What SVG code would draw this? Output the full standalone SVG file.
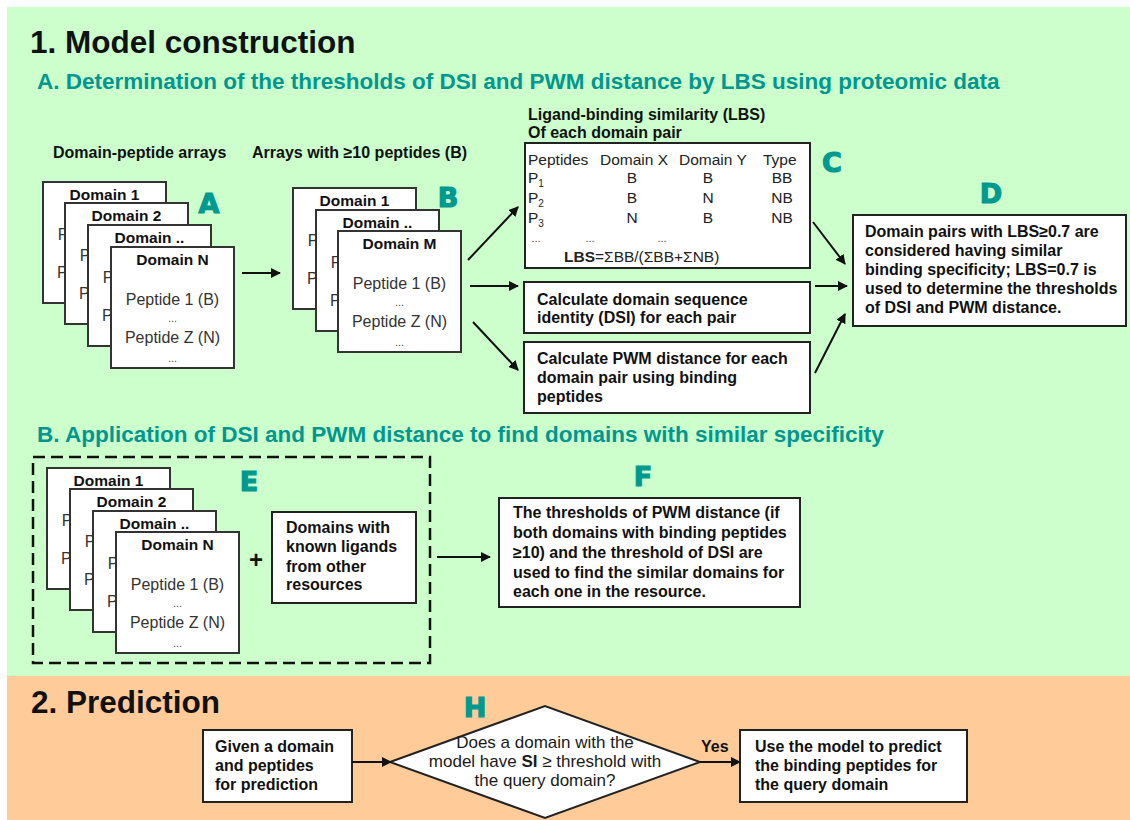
<svg xmlns="http://www.w3.org/2000/svg" width="1130" height="820" viewBox="0 0 1130 820">
<style>
  text { font-family: "Liberation Sans", Arial, sans-serif; fill: #111; }
  .h1 { font-size: 31.5px; font-weight: bold; }
  .h2 { font-size: 22.5px; font-weight: bold; fill: #00978f; }
  .lbl { font-size: 16px; font-weight: bold; }
  .bx { font-size: 16px; font-weight: bold; }
  .ct { font-size: 15.5px; font-weight: bold; text-anchor: middle; }
  .cp { font-size: 16px; fill: #333; text-anchor: middle; }
  .dots { font-size: 11px; fill: #444; text-anchor: middle; }
  .tb { font-size: 15.5px; fill: #222; }
  .tc { font-size: 15.5px; fill: #222; text-anchor: middle; }
  .tag { font-family: "DejaVu Sans", sans-serif; font-size: 27px; font-weight: bold; fill: #00998f; text-anchor: middle; stroke: #00998f; stroke-width: 1.2; }
  .box { fill: #fff; stroke: #222; stroke-width: 2; }
  .card { fill: #fff; stroke: #333; stroke-width: 2; }
  .con { stroke: #111; stroke-width: 2; fill: none; marker-end: url(#ah); }
  .dq { font-size: 17px; fill: #1a1a1a; text-anchor: middle; }
</style>
<defs>
  <marker id="ah" viewBox="0 0 10 10" refX="9" refY="5" markerWidth="5" markerHeight="5" orient="auto" markerUnits="strokeWidth">
    <path d="M0,0 L10,5 L0,10 z" fill="#111"/>
  </marker>
  <g id="cardBody">
    <rect class="card" x="0" y="0" width="123" height="121"/>
    <text class="cp" x="61.5" y="58">Peptide 1 (B)</text>
    <text class="dots" x="61.5" y="75">...</text>
    <text class="cp" x="61.5" y="96">Peptide Z (N)</text>
    <text class="dots" x="61.5" y="115">...</text>
  </g>
</defs>

<rect x="7" y="7" width="1123" height="669" fill="#ccffcc"/>
<rect x="7" y="676" width="1123" height="144" fill="#ffcc99"/>

<text class="h1" x="30" y="53">1. Model construction</text>
<text class="h2" x="37" y="89">A. Determination of the thresholds of DSI and PWM distance by LBS using proteomic data</text>
<text class="h2" x="37" y="442">B. Application of DSI and PWM distance to find domains with similar specificity</text>
<text class="h1" x="31" y="713">2. Prediction</text>

<text class="lbl" x="53" y="158">Domain-peptide arrays</text>
<text class="lbl" x="252" y="158">Arrays with ≥10 peptides (B)</text>

<g id="stackA">
  <g transform="translate(43,182)"><use href="#cardBody"/><text class="ct" x="61.5" y="18">Domain 1</text></g>
  <g transform="translate(65,203)"><use href="#cardBody"/><text class="ct" x="61.5" y="18">Domain 2</text></g>
  <g transform="translate(88,225)"><use href="#cardBody"/><text class="ct" x="61.5" y="18">Domain ..</text></g>
  <g transform="translate(111,247)"><use href="#cardBody"/><text class="ct" x="61.5" y="18">Domain N</text></g>
  <text class="tag" x="209" y="213">A</text>
</g>

<g id="stackB">
  <g transform="translate(293,188)"><use href="#cardBody"/><text class="ct" x="61.5" y="18">Domain 1</text></g>
  <g transform="translate(316,210)"><use href="#cardBody"/><text class="ct" x="61.5" y="18">Domain ..</text></g>
  <g transform="translate(338,231)"><use href="#cardBody"/><text class="ct" x="61.5" y="18">Domain M</text></g>
  <text class="tag" x="448" y="207">B</text>
</g>

<g id="nodeC">
  <text class="lbl" x="528" y="120">Ligand-binding similarity (LBS)</text>
  <text class="lbl" x="528" y="138">Of each domain pair</text>
  <rect class="box" x="525" y="143" width="285" height="125"/>
  <text class="tb" x="528" y="165">Peptides</text>
  <text class="tb" x="600" y="165">Domain X</text>
  <text class="tb" x="679" y="165">Domain Y</text>
  <text class="tb" x="763" y="165">Type</text>
  <text class="tb" x="528" y="183">P<tspan font-size="10" dy="4">1</tspan></text>
  <text class="tb" x="528" y="203">P<tspan font-size="10" dy="4">2</tspan></text>
  <text class="tb" x="528" y="223">P<tspan font-size="10" dy="4">3</tspan></text>
  <text class="tc" x="632" y="183">B</text><text class="tc" x="708" y="183">B</text><text class="tc" x="782" y="183">BB</text>
  <text class="tc" x="632" y="203">B</text><text class="tc" x="708" y="203">N</text><text class="tc" x="782" y="203">NB</text>
  <text class="tc" x="632" y="223">N</text><text class="tc" x="708" y="223">B</text><text class="tc" x="782" y="223">NB</text>
  <text class="dots" x="536" y="242">...</text>
  <text class="dots" x="590" y="242">...</text>
  <text class="dots" x="662" y="242">...</text>
  <text class="tb" x="564" y="262" font-size="16"><tspan font-weight="bold">LBS</tspan>=ΣBB/(ΣBB+ΣNB)</text>
  <text class="tag" x="832" y="172">C</text>
</g>

<g id="nodeDSI">
  <rect class="box" x="524" y="282" width="286" height="51"/>
  <text class="bx" x="537" y="305">Calculate domain sequence</text>
  <text class="bx" x="537" y="323">identity (DSI) for each pair</text>
</g>

<g id="nodePWM">
  <rect class="box" x="524" y="342" width="286" height="71"/>
  <text class="bx" x="537" y="364">Calculate PWM distance for each</text>
  <text class="bx" x="537" y="383">domain pair using binding</text>
  <text class="bx" x="537" y="402">peptides</text>
</g>

<g id="nodeD">
  <text class="tag" x="991" y="203">D</text>
  <rect class="box" x="853" y="215" width="273" height="111"/>
  <text class="bx" x="865" y="237">Domain pairs with LBS≥0.7 are</text>
  <text class="bx" x="865" y="256">considered having similar</text>
  <text class="bx" x="865" y="275">binding specificity; LBS=0.7 is</text>
  <text class="bx" x="865" y="294">used to determine the thresholds</text>
  <text class="bx" x="865" y="313">of DSI and PWM distance.</text>
</g>

<g id="groupE">
  <rect x="33" y="457" width="397" height="206" fill="none" stroke="#111" stroke-width="2.5" stroke-dasharray="12,6"/>
  <g transform="translate(47,468)"><use href="#cardBody"/><text class="ct" x="61.5" y="18">Domain 1</text></g>
  <g transform="translate(70,489)"><use href="#cardBody"/><text class="ct" x="61.5" y="18">Domain 2</text></g>
  <g transform="translate(93,511)"><use href="#cardBody"/><text class="ct" x="61.5" y="18">Domain ..</text></g>
  <g transform="translate(116,532)"><use href="#cardBody"/><text class="ct" x="61.5" y="18">Domain N</text></g>
  <text class="tag" x="249" y="491">E</text>
  <text x="256" y="568" font-size="24" font-weight="bold" text-anchor="middle">+</text>
  <rect class="box" x="272" y="512" width="144" height="91"/>
  <text class="bx" x="286" y="533">Domains with</text>
  <text class="bx" x="286" y="552">known ligands</text>
  <text class="bx" x="286" y="572">from other</text>
  <text class="bx" x="286" y="590">resources</text>
</g>

<g id="nodeF">
  <text class="tag" x="643" y="486">F</text>
  <rect class="box" x="499" y="498" width="301" height="109"/>
  <text class="bx" x="513" y="518">The thresholds of PWM distance (if</text>
  <text class="bx" x="513" y="538">both domains with binding peptides</text>
  <text class="bx" x="513" y="558">≥10) and the threshold of DSI are</text>
  <text class="bx" x="513" y="578">used to find the similar domains for</text>
  <text class="bx" x="513" y="597">each one in the resource.</text>
</g>

<g id="nodeGiven">
  <rect class="box" x="203" y="730" width="149" height="72"/>
  <text class="bx" x="215" y="752">Given a domain</text>
  <text class="bx" x="215" y="771">and peptides</text>
  <text class="bx" x="215" y="790">for prediction</text>
</g>

<g id="nodeH">
  <text class="tag" x="475" y="717">H</text>
  <polygon points="390,762 545,706 700,762 545,818" fill="#fff" stroke="#222" stroke-width="2"/>
  <text class="dq" x="545" y="748">Does a domain with the</text>
  <text class="dq" x="545" y="767">model have <tspan font-weight="bold">SI</tspan> ≥ threshold with</text>
  <text class="dq" x="545" y="786">the query domain?</text>
</g>

<g id="nodeUse">
  <rect class="box" x="740" y="730" width="227" height="72"/>
  <text class="bx" x="755" y="752">Use the model to predict</text>
  <text class="bx" x="755" y="771">the binding peptides for</text>
  <text class="bx" x="755" y="790">the query domain</text>
</g>

<g id="connectors">
  <line class="con" x1="242" y1="273" x2="280" y2="273"/>
  <line class="con" x1="468" y1="260" x2="518" y2="207"/>
  <line class="con" x1="470" y1="286" x2="518" y2="286"/>
  <line class="con" x1="473" y1="322" x2="518" y2="370"/>
  <line class="con" x1="813" y1="222" x2="845" y2="264"/>
  <line class="con" x1="815" y1="286" x2="847" y2="286"/>
  <line class="con" x1="815" y1="373" x2="845" y2="314"/>
  <line class="con" x1="437" y1="557" x2="490" y2="557"/>
  <line class="con" x1="352" y1="762" x2="391" y2="762"/>
  <line class="con" x1="700" y1="762" x2="740" y2="762"/>
  <text class="bx" x="701" y="752">Yes</text>
</g>
</svg>
